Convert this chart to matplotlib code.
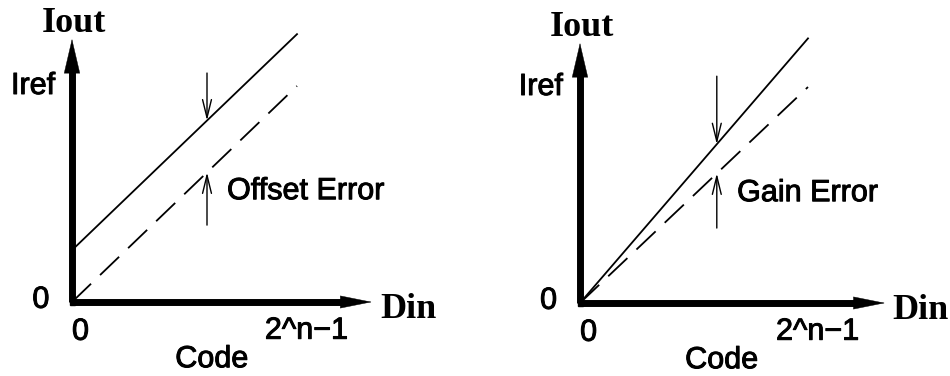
import matplotlib
matplotlib.use("Agg")
import matplotlib.pyplot as plt
from matplotlib.patches import FancyArrowPatch
import matplotlib.patheffects as pe
import numpy as np

plt.rcParams['lines.scale_dashes'] = False

# ---- data (normalised: code full scale = 1, Iref = 1) ----
codes = [0.0, 1.0]
ideal = [0.0, 1.0]
offset_actual = [0.24, 1.24]
gain_actual = [0.0, 1.225]
marker_code = 0.6
x_tick_labels = ["0", "2^n\u22121"]
y_tick_labels = ["0", "Iref"]
panel_labels = ["Offset Error", "Gain Error"]

W, H = 950, 376
fig = plt.figure(figsize=(W / 100, H / 100), dpi=100)

panels = [
    dict(ox=72, oy=302, sx=225, sy=216, actual=offset_actual, label=panel_labels[0],
         ytip=1.218, xtip=1.333, down_top=1.06, up_bot=0.356),
    dict(ox=580, oy=303, sx=228, sy=216, actual=gain_actual, label=panel_labels[1],
         ytip=1.204, xtip=1.338, down_top=1.05, up_bot=0.347),
]

sans = "Liberation Sans"
serif = "Liberation Serif"
fs = 22
bfs = 26
stroke = [pe.withStroke(linewidth=0.7, foreground="black")]

for p in panels:
    ax = fig.add_axes([0, 0, 1, 1])
    ax.patch.set_alpha(0)
    ax.set_axis_off()
    ox, oy, sx, sy = p["ox"], p["oy"], p["sx"], p["sy"]
    ax.set_xlim(-ox / sx, (W - ox) / sx)
    ax.set_ylim(-(H - oy) / sy, oy / sy)

    hl_y = 33 / sy
    hl_x = 30 / sx
    ax.plot([0, 0], [0, p["ytip"] - hl_y * 0.8], color="black", lw=5.0,
            solid_capstyle="butt")
    ax.plot([0, p["xtip"] - hl_x * 0.8], [0, 0], color="black", lw=5.0,
            solid_capstyle="butt")
    ax.plot([0], [0], marker="s", ms=3.6, color="black")
    ax.add_patch(FancyArrowPatch((0, p["ytip"] - hl_y), (0, p["ytip"]),
                                 arrowstyle="-|>,head_length=24,head_width=5.6",
                                 mutation_scale=1, lw=0.3, color="black",
                                 shrinkA=0, shrinkB=0))
    ax.add_patch(FancyArrowPatch((p["xtip"] - hl_x, 0), (p["xtip"], 0),
                                 arrowstyle="-|>,head_length=22,head_width=4.4",
                                 mutation_scale=1, lw=0.3, color="black",
                                 shrinkA=0, shrinkB=0))

    ax.plot(codes, p["actual"], color="black", lw=1.3)
    ax.plot(codes, ideal, color="black", lw=1.3, dashes=(19, 9))

    ya = np.interp(marker_code, codes, p["actual"])
    yi = np.interp(marker_code, codes, ideal)
    ax.add_patch(FancyArrowPatch((marker_code, p["down_top"]), (marker_code, ya),
                                 arrowstyle="->,head_length=13,head_width=3.2",
                                 mutation_scale=1, lw=1.0, color="black",
                                 shrinkA=0, shrinkB=0))
    ax.add_patch(FancyArrowPatch((marker_code, p["up_bot"]), (marker_code, yi),
                                 arrowstyle="->,head_length=13,head_width=3.2",
                                 mutation_scale=1, lw=1.0, color="black",
                                 shrinkA=0, shrinkB=0))

    kw = dict(fontsize=fs, family=sans, path_effects=stroke)
    ax.text(marker_code + 0.089, (yi + p["up_bot"]) / 2 + 0.035, p["label"],
            ha="left", va="center", **kw)
    ax.text(-0.075, ideal[1], y_tick_labels[1], ha="right", va="center", **kw)
    ax.text(-0.10, 0.01, y_tick_labels[0], ha="right", va="center", **kw)
    ax.text(0.038, -0.138, x_tick_labels[0], ha="center", va="center", **kw)
    ax.text(1.042, -0.133, x_tick_labels[1], ha="center", va="center", **kw)
    ax.text(0.62, -0.265, "Code", ha="center", va="center", **kw)
    ax.text(0.01, p["ytip"] + 0.03, "Iout", ha="center", va="baseline",
            fontsize=bfs, family=serif, weight="bold")
    ax.text(1.37, -0.074, "Din", ha="left", va="baseline",
            fontsize=bfs, family=serif, weight="bold")

fig.savefig("out.png", dpi=100)
